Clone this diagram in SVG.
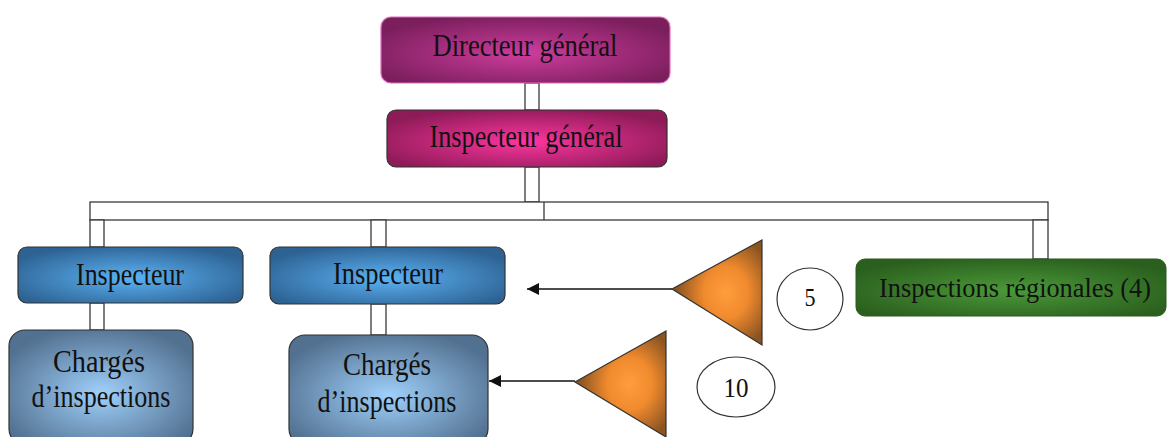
<svg xmlns="http://www.w3.org/2000/svg" width="1167" height="437" viewBox="0 0 1167 437">
<defs>
<style>
.lbl{font-family:"Liberation Serif","Times New Roman",serif;fill:#111;text-anchor:middle;}
.conn{fill:#fff;stroke:#3a3a3a;stroke-width:1.3;}
.arrow{stroke:#111;stroke-width:1.6;fill:none;marker-end:url(#ah);}
.box{stroke:#333;stroke-width:1.2;}
</style>
<radialGradient id="gDir" cx="50%" cy="55%" r="60%">
<stop offset="0" stop-color="#cd3d9d"/><stop offset="1" stop-color="#7a1e5c"/>
</radialGradient>
<radialGradient id="gIG" cx="50%" cy="55%" r="60%">
<stop offset="0" stop-color="#ff35a0"/><stop offset="1" stop-color="#8c1b57"/>
</radialGradient>
<radialGradient id="gIns" cx="50%" cy="55%" r="60%">
<stop offset="0" stop-color="#5cb2f4"/><stop offset="1" stop-color="#2d6293"/>
</radialGradient>
<radialGradient id="gCh" cx="50%" cy="55%" r="60%">
<stop offset="0" stop-color="#9fd0fb"/><stop offset="1" stop-color="#52708f"/>
</radialGradient>
<radialGradient id="gGr" cx="50%" cy="55%" r="60%">
<stop offset="0" stop-color="#4a9a38"/><stop offset="1" stop-color="#2b5f1e"/>
</radialGradient>
<radialGradient id="gTri" cx="60%" cy="50%" r="55%">
<stop offset="0" stop-color="#ff9d3c"/><stop offset="0.45" stop-color="#f08a2e"/><stop offset="1" stop-color="#8a5420"/>
</radialGradient>
<marker id="ah" markerUnits="userSpaceOnUse" markerWidth="13" markerHeight="12" refX="12" refY="6" orient="auto">
<path d="M0,0 L12,6 L0,12 z" fill="#111"/>
</marker>
</defs>

<g id="connectors">
<rect class="conn" x="525" y="83" width="14" height="27"/>
<rect class="conn" x="525" y="167" width="14" height="35"/>
<rect class="conn" x="90" y="202" width="958" height="18"/>
<line x1="544" y1="202" x2="544" y2="220" stroke="#3a3a3a" stroke-width="1.3"/>
<rect class="conn" x="90" y="220" width="14" height="27"/>
<rect class="conn" x="371" y="220" width="15" height="27"/>
<rect class="conn" x="1033" y="220" width="15" height="39"/>
<rect class="conn" x="90" y="303" width="14" height="27"/>
<rect class="conn" x="371" y="304" width="15" height="31"/>
<line class="arrow" x1="672" y1="289" x2="527" y2="289"/>
<line class="arrow" x1="575" y1="381" x2="489" y2="381"/>
</g>

<g id="directeur">
<rect x="381" y="17" width="289" height="66" rx="10" fill="url(#gDir)" stroke="#e06bbd" stroke-width="1.2"/>
<text class="lbl" x="525" y="56" font-size="32" textLength="185" lengthAdjust="spacingAndGlyphs">Directeur général</text>
</g>

<g id="inspecteur-general">
<rect class="box" x="387" y="110" width="280" height="57" rx="9" fill="url(#gIG)"/>
<text class="lbl" x="526" y="147" font-size="32" textLength="193" lengthAdjust="spacingAndGlyphs">Inspecteur général</text>
</g>

<g id="inspecteur-1">
<rect class="box" x="18" y="247" width="225" height="56" rx="9" fill="url(#gIns)"/>
<text class="lbl" x="130" y="285" font-size="32" textLength="108" lengthAdjust="spacingAndGlyphs">Inspecteur</text>
</g>

<g id="inspecteur-2">
<rect class="box" x="270" y="247" width="235" height="57" rx="9" fill="url(#gIns)"/>
<text class="lbl" x="388" y="284" font-size="32" textLength="110" lengthAdjust="spacingAndGlyphs">Inspecteur</text>
</g>

<g id="charges-1">
<rect class="box" x="9" y="330" width="184" height="115" rx="16" fill="url(#gCh)"/>
<text class="lbl" x="99" y="372" font-size="32" textLength="92" lengthAdjust="spacingAndGlyphs">Chargés</text>
<text class="lbl" x="101" y="407" font-size="32" textLength="139" lengthAdjust="spacingAndGlyphs">d’inspections</text>
</g>

<g id="charges-2">
<rect class="box" x="289" y="335" width="199" height="110" rx="16" fill="url(#gCh)"/>
<text class="lbl" x="387" y="375" font-size="32" textLength="88" lengthAdjust="spacingAndGlyphs">Chargés</text>
<text class="lbl" x="387" y="412" font-size="32" textLength="139" lengthAdjust="spacingAndGlyphs">d’inspections</text>
</g>

<g id="inspections-regionales">
<rect x="856" y="259" width="310" height="57" rx="9" fill="url(#gGr)" stroke="#2a5a1c" stroke-width="1"/>
<text class="lbl" x="1015" y="297" font-size="28" textLength="272" lengthAdjust="spacingAndGlyphs">Inspections régionales (4)</text>
</g>

<g id="triangle-5">
<polygon points="672,289 762,240 762,345" fill="url(#gTri)" stroke="#333" stroke-width="1.2"/>
</g>
<g id="badge-5">
<ellipse cx="810" cy="299" rx="33" ry="31" fill="#fff" stroke="#333" stroke-width="1.2"/>
<text class="lbl" x="810" y="306" font-size="25" textLength="11" lengthAdjust="spacingAndGlyphs">5</text>
</g>

<g id="triangle-10">
<polygon points="575,382 666,331 666,437" fill="url(#gTri)" stroke="#333" stroke-width="1.2"/>
</g>
<g id="badge-10">
<ellipse cx="736" cy="387" rx="39" ry="30" fill="#fff" stroke="#333" stroke-width="1.2"/>
<text class="lbl" x="736" y="397" font-size="28" textLength="25" lengthAdjust="spacingAndGlyphs">10</text>
</g>
</svg>
